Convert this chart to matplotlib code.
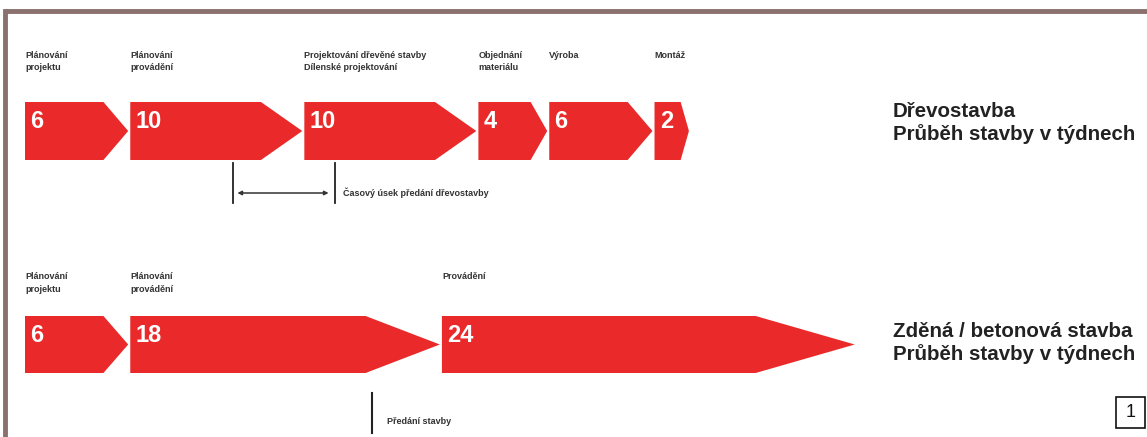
import matplotlib.pyplot as plt
from matplotlib.patches import Polygon, Rectangle

plt.rcParams['font.family'] = ['Liberation Sans', 'DejaVu Sans']

# --- data (weeks) ---
wood_weeks = [6, 10, 10, 4, 6, 2]
wood_labels = ['Plánování\nprojektu', 'Plánování\nprovádění',
               'Projektování dřevěné stavby\nDílenské projektování',
               'Objednání\nmateriálu', 'Výroba', 'Montáž']
brick_weeks = [6, 18, 24]
brick_labels = ['Plánování\nprojektu', 'Plánování\nprovádění', 'Provádění']
handover_wood = (12.1, 18.0)   # week range of the wood handover window
handover_brick = 20.2          # week of the brick handover
wood_title = 'Dřevostavba\nPrůběh stavby v týdnech'
brick_title = 'Zděná / betonová stavba\nPrůběh stavby v týdnech'

red = '#ea2a2a'
txt = '#333333'
border = '#8a716e'
px_week = 17.2   # pixels per week
gap = 0.12       # gap between arrows (weeks)

fig = plt.figure(figsize=(11.47, 4.37), dpi=100)
ax = fig.add_axes([0, 0, 1, 1])
ax.set_xlim(-25 / px_week, (1147 - 25) / px_week)
ax.set_ylim(437, 0)
ax.axis('off')


def draw_row(weeks, labels, y0, y1, label_y):
    x = 0.0
    ym = (y0 + y1) / 2
    for w, lab in zip(weeks, labels):
        tip = 0.24 * w
        pts = [(x, y0), (x + w - tip, y0), (x + w, ym), (x + w - tip, y1), (x, y1)]
        ax.add_patch(Polygon(pts, closed=True, color=red, lw=0))
        ax.text(x + 0.3, y0 + 8, str(w), color='white', fontsize=17,
                fontweight='bold', va='top', ha='left')
        ax.text(x, label_y, lab, color=txt, fontsize=6.5, fontweight='bold',
                va='top', ha='left', linespacing=1.5)
        x += w + gap


draw_row(wood_weeks, wood_labels, 102, 160, 51)
draw_row(brick_weeks, brick_labels, 316, 373, 272)

# handover window (wood)
a, b = handover_wood
ax.plot([a, a], [163, 203], color='#222222', lw=1.3)
ax.plot([b, b], [163, 203], color='#222222', lw=1.3)
ax.annotate('', xy=(a + 0.25, 193), xytext=(b - 0.35, 193),
            arrowprops=dict(arrowstyle='<|-|>', color='#333333', lw=1.1,
                            mutation_scale=6, shrinkA=0, shrinkB=0))
ax.text(b + 0.5, 193, 'Časový úsek předání dřevostavby', color=txt,
        fontsize=6.5, fontweight='bold', va='center', ha='left')

# handover (brick)
ax.plot([handover_brick, handover_brick], [393, 433], color='#222222', lw=1.5)
ax.text(handover_brick + 0.85, 422, 'Předání stavby', color=txt,
        fontsize=6.5, fontweight='bold', va='center', ha='left')

# titles on the right
ax.text(893 / 1147, 1 - 123 / 437, wood_title, transform=ax.transAxes,
        color='#222222', fontsize=14.8, fontweight='bold', va='center',
        ha='left', linespacing=1.2)
ax.text(893 / 1147, 1 - 343 / 437, brick_title, transform=ax.transAxes,
        color='#222222', fontsize=14.8, fontweight='bold', va='center',
        ha='left', linespacing=1.2)

# figure number box
ax.add_patch(Rectangle((1116 / 1147, 1 - 428 / 437), 29 / 1147, 31 / 437,
                       transform=ax.transAxes, fill=False, ec='#111111', lw=1.2))
ax.text(1130.5 / 1147, 1 - 412.5 / 437, '1', transform=ax.transAxes,
        fontsize=13, ha='center', va='center', color='#111111')

# frame
ax.plot([5 / 1147, 1], [1 - 11 / 437] * 2, transform=ax.transAxes,
        color=border, lw=3.5, solid_capstyle='butt')
ax.plot([5 / 1147] * 2, [0, 1 - 11 / 437], transform=ax.transAxes,
        color=border, lw=3.5, solid_capstyle='projecting')

fig.savefig('out.png', dpi=100)
